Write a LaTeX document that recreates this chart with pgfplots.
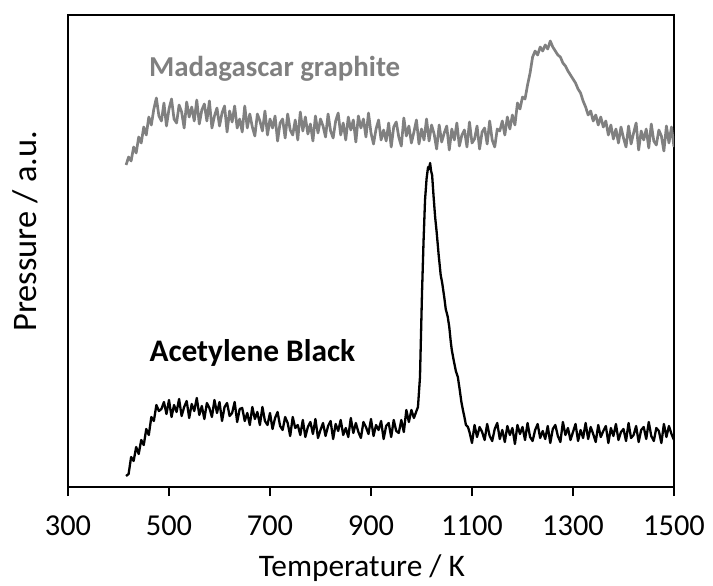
\documentclass[border=0pt]{standalone}
\usepackage{fontspec}
\setmainfont{Carlito}
\usepackage{pgfplots}
\pgfplotsset{compat=1.18}
\definecolor{mgray}{RGB}{128,128,128}
\begin{document}
\begin{tikzpicture}
\begin{axis}[
  at={(0,0)}, anchor=south west,
  scale only axis, width=606bp, height=472bp,
  xmin=300, xmax=1500, ymin=0, ymax=472,
  xtick={300,500,700,900,1100,1300,1500},
  ytick=\empty,
  tick align=outside,
  xtick pos=left,
  major tick length=9bp,
  tick style={black, line width=1.2bp},
  axis line style={line width=1.3bp},
  /pgf/number format/assume math mode=true,
  /pgf/number format/set thousands separator={},
  ticklabel style={font=\fontsize{30.5}{36}\selectfont},
  xticklabel style={yshift=-16bp},
  xlabel={Temperature / K}, ylabel={Pressure / a.u.},
  xlabel style={font=\fontsize{31.5}{38}\selectfont, at={(axis description cs:0.485,-0.189)}, anchor=base},
  ylabel style={font=\fontsize{34.5}{40}\selectfont, at={(axis description cs:-0.0512,0.542)}, anchor=base},
]
\addplot[black, line width=2.3bp, line join=round] coordinates {
(415,11)(420,13)(425,30)(430,26)(435,40)(440,33)(445,47)(450,42)(455,58)(460,52)(465,70)(470,66)(475,82)(480,76)
(485,78)(490,85)(495,73)(500,87)(505,70)(510,82)(515,75)(520,88)(525,71)(530,80)(535,86)(540,69)(545,83)(550,76)(555,89)(560,72)(565,81)(570,68)(575,84)(580,79)(585,70)(590,87)(595,74)(600,85)
(605,66)(610,80)(615,84)(620,71)(625,74)(630,85)(635,65)(640,78)(645,79)(650,66)(655,74)(660,62)
(665,80)(670,68)(675,75)(680,62)(685,80)(690,66)(695,62)(700,74)(705,58)(710,69)(715,75)(720,61)(725,57)(730,70)(735,64)(740,51)(745,70)(750,59)
(755,62)(760,52)(765,67)(770,50)(775,60)(780,65)(785,53)(790,68)(795,49)(800,57)(805,64)(810,51)(815,61)(820,66)(825,48)(830,63)(835,56)(840,67)(845,52)(850,59)(855,50)(860,69)(865,54)(870,64)(875,55)(880,49)(885,65)(890,60)(895,53)(900,68)(905,51)(910,62)(915,57)(920,66)(925,48)(930,61)(935,64)(940,50)(945,67)(950,56)
(955,54)(960,67)(965,55)(970,77)(975,65)(980,77)(985,69)(990,76)
(993,80)(997,110)(1001,194)(1004,245)(1007,287)(1010,308)(1013,320)(1015,318)(1017,324)(1019,316)(1021,312)(1024,290)(1027,270)(1030,255)(1034,232)(1038,212)(1041,204)(1045,190)(1048,178)(1052,170)(1055,160)(1058,145)(1060,137)(1064,126)(1068,116)(1072,110)(1076,96)(1079,85)(1082,77)(1085,70)(1088,62)(1092,60)(1095,55)
(1100,44)(1105,62)(1110,50)(1115,60)(1120,55)(1125,47)(1130,63)(1135,51)(1140,46)(1145,58)(1150,64)(1155,48)(1160,57)(1165,45)(1170,61)(1175,52)(1180,59)(1185,43)(1190,62)(1195,53)
(1200,60)(1205,47)(1210,64)(1215,50)(1220,46)(1225,57)(1230,63)(1235,49)(1240,56)(1245,48)(1250,61)(1255,44)(1260,58)(1265,62)(1270,51)(1275,45)(1280,65)(1285,52)(1290,59)(1295,47)
(1300,55)(1305,63)(1310,46)(1315,57)(1320,49)(1325,64)(1330,48)(1335,60)(1340,53)(1345,45)(1350,62)(1355,50)(1360,56)(1365,61)(1370,44)(1375,59)(1380,51)(1385,63)(1390,47)(1395,55)
(1400,58)(1405,46)(1410,64)(1415,49)(1420,52)(1425,61)(1430,45)(1435,57)(1440,60)(1445,48)(1450,65)(1455,51)(1460,46)(1465,59)(1470,56)(1475,44)(1480,63)(1485,50)(1490,61)(1495,53)(1500,47)
};
\addplot[mgray, line width=2.7bp, line join=round] coordinates {
(415,322)(420,330)(425,326)(430,340)(435,334)(440,350)(445,344)(450,360)(455,352)(460,370)(465,362)(470,378)
(475,389)(480,371)(485,366)(490,384)(495,361)(500,378)(505,388)(510,368)(515,364)(520,382)(525,375)(530,359)(535,385)(540,370)(545,380)(550,366)(555,387)(560,363)
(565,377)(570,383)(575,366)(580,386)(585,359)(590,371)(595,379)(600,361)(605,374)(610,381)(615,355)(620,376)(625,365)(630,381)(635,359)(640,368)(645,355)(650,381)(655,359)(660,373)(665,360)(670,351)(675,373)(680,366)(685,356)(690,376)(695,352)(700,368)
(705,359)(710,371)(715,346)(720,364)(725,368)(730,349)(735,373)(740,357)(745,352)(750,367)(755,347)(760,375)(765,356)(770,370)(775,353)(780,363)(785,346)(790,371)(795,354)(800,368)
(805,361)(810,350)(815,373)(820,356)(825,349)(830,366)(835,374)(840,352)(845,364)(850,347)(855,370)(860,357)(865,367)(870,345)(875,371)(880,359)(885,368)(890,350)(895,374)(900,354)
(905,343)(910,358)(915,367)(920,347)(925,357)(930,346)(935,364)(940,340)(945,360)(950,365)(955,350)(960,341)(965,369)(970,351)(975,361)(980,344)(985,355)(990,367)(995,343)(1000,358)
(1005,347)(1010,368)(1015,346)(1020,362)(1025,353)(1030,338)(1035,362)(1040,345)(1045,354)(1050,361)(1055,337)(1060,358)(1065,347)(1070,364)(1075,341)(1080,352)(1085,357)(1090,340)(1095,365)(1100,344)
(1105,348)(1110,361)(1115,338)(1120,355)(1125,359)(1130,343)(1135,366)(1140,347)(1145,340)(1150,358)
(1155,356)(1160,366)(1165,352)(1170,370)(1175,358)(1180,372)(1185,362)(1190,384)(1195,378)(1200,390)(1205,388)(1210,402)(1215,414)(1220,430)(1225,436)(1230,432)(1235,440)(1240,436)(1245,442)(1250,438)
(1255,446)(1260,440)(1265,436)(1270,432)(1275,430)(1280,424)(1285,421)(1290,416)(1295,412)(1300,408)(1305,404)(1310,398)(1315,394)(1320,386)(1325,380)(1330,372)(1335,376)(1340,366)(1345,372)(1350,362)
(1355,370)(1360,360)(1365,366)(1370,352)(1375,362)(1380,348)(1385,358)(1390,344)
(1395,360)(1400,349)(1405,340)(1410,361)(1415,343)(1420,354)(1425,364)(1430,337)(1435,356)(1440,347)(1445,358)(1450,339)(1455,363)(1460,346)(1465,342)(1470,357)(1475,351)(1480,336)(1485,361)(1490,344)(1495,360)(1500,340)
};
\node[anchor=base west, inner sep=0pt, text=mgray, font=\fontsize{29}{34}\selectfont\bfseries] at (axis cs:460,410) {Madagascar graphite};
\node[anchor=base west, inner sep=0pt, text=black, font=\fontsize{31.5}{38}\selectfont\bfseries] at (axis cs:461,125) {Acetylene Black};
\end{axis}
\pgfresetboundingbox
\path[use as bounding box] (-68bp,-99bp) rectangle (645bp,487bp);
\end{tikzpicture}
\end{document}
